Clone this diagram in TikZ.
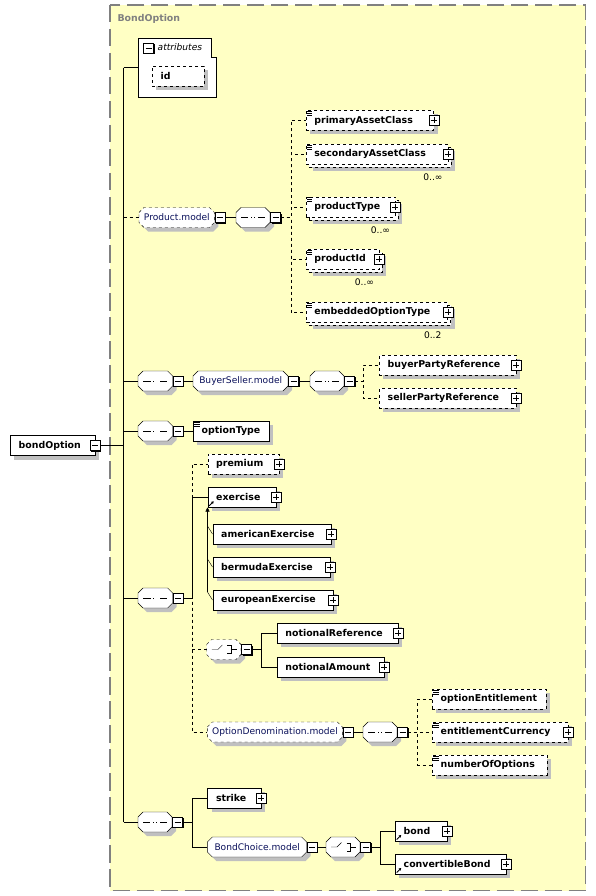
\documentclass[tikz,border=0pt]{standalone}
\usepackage{fontspec}
\setmainfont{DejaVu Sans}
\usetikzlibrary{shadows,arrows.meta}

\definecolor{frameyellow}{RGB}{255,255,196}
\definecolor{framegray}{RGB}{128,128,128}
\definecolor{shadowgray}{RGB}{192,192,192}
\definecolor{grptext}{RGB}{10,16,90}

\newcommand{\boldfont}{\fontsize{9.4}{11}\selectfont\bfseries}
\newcommand{\grpfont}{\fontsize{9.1}{11}\selectfont}

\tikzset{
  shade4/.style={general shadow={fill=shadowgray, shadow xshift=4pt, shadow yshift=-4pt}},
  elem/.style={
    draw,
    fill=white,
    shade4,
    anchor=west,
    minimum height=20pt,
    inner xsep=8.5pt,
    inner ysep=0pt,
    font=\boldfont
  },
  optelem/.style={
    elem,
    dashed
  },
  multielem/.style={
    general shadow={fill=shadowgray, shadow xshift=7pt, shadow yshift=-7pt},
    general shadow={draw, fill=white, shadow xshift=3pt, shadow yshift=-3pt}
  },
  simple/.style={path picture={
    \foreach \k in {1pt,3pt,5pt}
      \draw[solid, line width=0.8pt] ([shift={(1pt,-\k)}]path picture bounding box.north west) -- ++(5.5pt,0pt);
  }},
  refd/.style={path picture={
    \draw[solid, line width=0.8pt, -{Triangle[length=2.4pt,width=2.8pt]}]
      ([shift={(1.5pt,1.5pt)}]path picture bounding box.south west) -- ++(4.5pt,4.5pt);
  }},
  grp/.style={
    draw,
    fill=white,
    shade4
  },
  optgrp/.style={
    grp,
    dashed
  },
  grplabel/.style={
    anchor=west,
    minimum height=20pt,
    inner sep=0pt,
    font=\grpfont,
    text=grptext
  },
  seqc/.style={grp, path picture={
    \draw[solid] ([xshift=-12pt]path picture bounding box.center) -- ([xshift=12pt]path picture bounding box.center);
    \foreach \dx in {-3.3pt,0pt,3.3pt}
      \fill ([xshift=\dx]path picture bounding box.center) +(-1.4pt,-1.4pt) rectangle +(1.4pt,1.4pt);
  }},
  chc/.style={grp, path picture={
    \draw[solid] ([xshift=-12pt]path picture bounding box.center) -- ([xshift=-6pt]path picture bounding box.center)
      -- ([shift={(-1.5pt,4.5pt)}]path picture bounding box.center);
    \foreach \dy in {-3.4pt,0pt,3.4pt}
      \fill ([shift={(1.5pt,\dy)}]path picture bounding box.center) +(-1.2pt,-1.2pt) rectangle +(1.2pt,1.2pt);
    \draw[solid] ([shift={(3.6pt,4pt)}]path picture bounding box.center) -- ([shift={(7pt,4pt)}]path picture bounding box.center)
      -- ([shift={(7pt,-4pt)}]path picture bounding box.center) -- ([shift={(3.6pt,-4pt)}]path picture bounding box.center);
    \draw[solid] ([xshift=7pt]path picture bounding box.center) -- ([xshift=13pt]path picture bounding box.center);
  }},
  btn/.style={
    draw,
    solid,
    fill=white,
    minimum size=10pt,
    inner sep=0pt,
    general shadow={fill=black, shadow xshift=1pt, shadow yshift=-1pt}
  },
  minusbtn/.style={btn, path picture={
    \draw ([xshift=2pt]path picture bounding box.west) -- ([xshift=-2pt]path picture bounding box.east);
  }},
  plusbtn/.style={btn, path picture={
    \draw ([xshift=2pt]path picture bounding box.west) -- ([xshift=-2pt]path picture bounding box.east);
    \draw ([yshift=-2pt]path picture bounding box.north) -- ([yshift=2pt]path picture bounding box.south);
  }},
  multlabel/.style={inner sep=0pt, font=\grpfont}
}

% element box: name, west point, width, text
\newcommand{\elem}[5][elem]{%
  \node[#1] (#2) at #3 {\makebox[\dimexpr#4pt-17pt\relax][l]{#5}};
}
% octagon for groups and compositors: name, west point, width, text
\newcommand{\grpnode}[5][grp]{%
  \draw[#1] #3 ++(0pt,5pt) -- ++(5pt,5pt) -- ++(#4pt-10pt,0pt) -- ++(5pt,-5pt)
    -- ++(0pt,-10pt) -- ++(-5pt,-5pt) -- ++(-#4pt+10pt,0pt) -- ++(-5pt,5pt) -- cycle;
  \node[grplabel, minimum width=#4pt] (#2) at #3 {#5};
}
\newcommand{\pbtn}[1]{%
  \node[plusbtn] (#1-b) at (#1.east) {};
}
\newcommand{\mbtn}[1]{%
  \node[minusbtn, anchor=west] (#1-b) at (#1.east) {};
}
\newcommand{\mult}[2]{%
  \node[multlabel] (#1-m) at ([shift={(-15pt,-13pt)}]#1.south east) {#2};
}

\begin{document}
\begin{tikzpicture}[x=1pt, y=-1pt]
\useasboundingbox (0,0) rectangle (596,896);

% complex type frame
\draw[framegray, line width=1.5pt, dash pattern=on 17.5pt off 6.5pt, fill=frameyellow]
  (110,5) rectangle (585.7,890.5);
\node[anchor=west, inner sep=0pt, font=\boldfont, text=framegray] (title) at (117.3,19) {BondOption};

% root
\elem{root}{(10,445.5)}{85}{bondOption}
\node[minusbtn] (root-b) at (root.east) {};

% attributes
\node[anchor=north west, minimum width=77.7pt, minimum height=59pt, inner sep=0pt] (attrs) at (138,38) {};
\draw[fill=white] (attrs.north west) -- ([xshift=-4.7pt]attrs.north east)
  -- ([shift={(-4.7pt,-19.7pt)}]attrs.north east) -- ([yshift=-19.7pt]attrs.north east)
  -- (attrs.south east) -- (attrs.south west) -- cycle;
\node[minusbtn] (attrs-b) at (148.5,48) {};
\node[anchor=west, inner sep=0pt, font=\grpfont\itshape] (attrs-t) at (157.5,47.5) {attributes};
\elem[optelem]{id}{(152,76.3)}{52}{id}

% Product.model
\grpnode[optgrp]{pm}{(139,217.5)}{75.3}{Product.model}
\mbtn{pm}
\grpnode[seqc]{pms}{(236,217.5)}{34}{}
\mbtn{pms}
\elem[optelem,simple]{pac}{(305.7,120.5)}{127.6}{primaryAssetClass}
\pbtn{pac}
\elem[optelem,simple,multielem]{sac}{(305.7,154)}{141.8}{secondaryAssetClass}
\pbtn{sac}
\mult{sac}{0..∞}
\elem[optelem,simple,multielem]{pty}{(305.7,206.7)}{89.3}{productType}
\pbtn{pty}
\mult{pty}{0..∞}
\elem[optelem,simple,multielem]{pid}{(305.7,259.3)}{73.3}{productId}
\pbtn{pid}
\mult{pid}{0..∞}
\elem[optelem,simple,multielem]{eot}{(305.7,312.3)}{141.6}{embeddedOptionType}
\pbtn{eot}
\mult{eot}{0..2}

% BuyerSeller.model
\grpnode[seqc]{s1}{(138,381)}{34.7}{}
\mbtn{s1}
\grpnode{bsm}{(193,381)}{95}{BuyerSeller.model}
\mbtn{bsm}
\grpnode[seqc]{bss}{(310,381)}{34}{}
\mbtn{bss}
\elem[optelem]{bpr}{(379,365)}{136.7}{buyerPartyReference}
\pbtn{bpr}
\elem[optelem]{spr}{(379,398)}{136.7}{sellerPartyReference}
\pbtn{spr}

% optionType
\grpnode[seqc]{s2}{(138,431)}{34.7}{}
\mbtn{s2}
\elem[elem,simple]{opt}{(193,431)}{76}{optionType}

% exercise, notional, denomination
\grpnode[seqc]{s3}{(138,598)}{34.7}{}
\mbtn{s3}
\elem[optelem]{prem}{(207.5,464)}{71.5}{premium}
\pbtn{prem}
\elem[elem,refd]{exer}{(207.5,497.3)}{68.2}{exercise}
\pbtn{exer}
\elem{ame}{(212.5,534)}{118.5}{americanExercise}
\pbtn{ame}
\elem{ber}{(212.5,567)}{117.5}{bermudaExercise}
\pbtn{ber}
\elem{eur}{(212.5,600)}{120.5}{europeanExercise}
\pbtn{eur}
\grpnode[chc,dashed]{nch}{(206.7,649.5)}{34.3}{}
\mbtn{nch}
\elem{nref}{(276.7,633)}{121}{notionalReference}
\pbtn{nref}
\elem{namt}{(276.7,666.7)}{107.3}{notionalAmount}
\pbtn{namt}
\grpnode[optgrp]{odm}{(207.3,732)}{135}{OptionDenomination.model}
\mbtn{odm}
\grpnode[seqc]{ods}{(363,732)}{34}{}
\mbtn{ods}
\elem[optelem,simple]{oent}{(432,699)}{113.7}{optionEntitlement}
\elem[optelem,simple]{ecur}{(432,732)}{135.7}{entitlementCurrency}
\pbtn{ecur}
\elem[optelem,simple]{noo}{(432,765)}{114.7}{numberOfOptions}

% strike and bond choice
\grpnode[seqc]{s4}{(138,822)}{34}{}
\mbtn{s4}
\elem{strk}{(207.3,798)}{53.7}{strike}
\pbtn{strk}
\grpnode{bcm}{(207.3,847)}{99.4}{BondChoice.model}
\mbtn{bcm}
\grpnode[chc]{bch}{(326,847)}{34}{}
\mbtn{bch}
\elem[elem,refd]{bond}{(395,831)}{51.7}{bond}
\pbtn{bond}
\elem[elem,refd]{cbond}{(395,864)}{110.7}{convertibleBond}
\pbtn{cbond}

% connectors
\draw (root-b.east) -- ++(23,0) coordinate (spine);
\draw (spine |- attrs.west) -- (spine |- s4.west);
\foreach \n in {attrs,s1,s2,s3,s4}
  \draw (spine |- \n.west) -- (\n.west);
\draw[dashed] (spine |- pm.west) -- (pm.west);

\draw (pm-b.east) -- (pms.west);
\foreach \n in {pac,sac,pty,pid,eot}
  \draw[dashed] (pms-b.east) -- ++(10,0) |- (\n.west);

\draw (s1-b.east) -- (bsm.west);
\draw (bsm-b.east) -- (bss.west);
\foreach \n in {bpr,spr}
  \draw[dashed] (bss-b.east) -- ++(8,0) |- (\n.west);

\draw (s2-b.east) -- (opt.west);

\draw (s3-b.east) -- ++(8.3,0) |- (exer.west);
\foreach \n in {prem,nch,odm}
  \draw[dashed] (s3-b.east) -- ++(8.3,0) |- (\n.west);
\draw[-{Triangle[length=4pt,width=4pt]}] ([shift={(-5pt,8pt)}]eur.west) -- (exer.south west);
\foreach \n in {ame,ber,eur}
  \draw ([shift={(-5pt,8pt)}]\n.west) -- (\n.west);
\foreach \n in {nref,namt}
  \draw (nch-b.east) -- ++(9.7,0) |- (\n.west);
\draw (odm-b.east) -- (ods.west);
\foreach \n in {oent,ecur,noo}
  \draw[dashed] (ods-b.east) -- ++(9.7,0) |- (\n.west);

\foreach \n in {strk,bcm}
  \draw (s4-b.east) -- ++(9.7,0) |- (\n.west);
\draw (bcm-b.east) -- (bch.west);
\foreach \n in {bond,cbond}
  \draw (bch-b.east) -- ++(9,0) |- (\n.west);

\end{tikzpicture}
\end{document}
